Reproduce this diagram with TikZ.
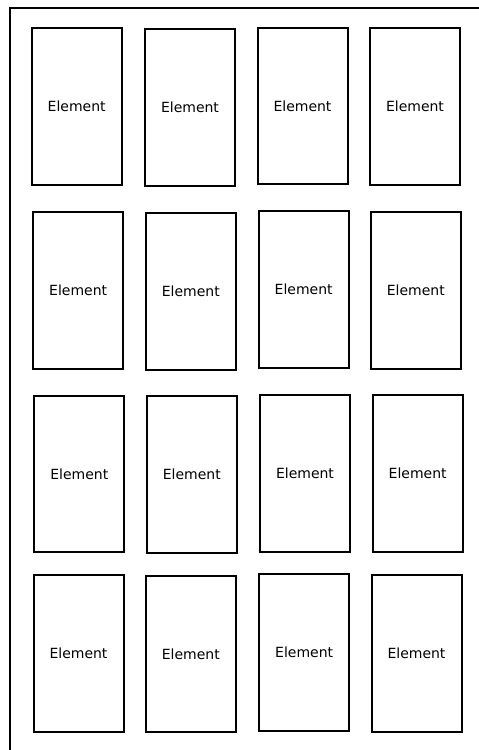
\documentclass[tikz,border=0pt]{standalone}
\usepackage{fontspec}
\setsansfont{DejaVu Sans}
\tikzset{
    font=\sffamily,
    elem/.style={draw=black, line width=2pt, minimum width=90pt, minimum height=156.5pt,
        inner sep=0pt, fill=white, font=\sffamily\fontsize{14}{16}\selectfont}
}

\begin{document}
\begin{tikzpicture}[x=1pt, y=-1pt]
    % Page size
    \useasboundingbox (0,0) rectangle (479,750);
    \clip (0,0) rectangle (479,750);

    % Outer frame (runs off the page at right and bottom)
    \draw[line width=2pt] (9.5,760) -- (9.5,7.5) -- (490,7.5);

    % Row 1
    \node[elem] (e11) at (76.7,106.7) {Element};
    \node[elem] (e12) at (190.0,107.5) {Element};
    \node[elem] (e13) at (302.5,106.2) {Element};
    \node[elem] (e14) at (415.0,106.7) {Element};

    % Row 2
    \node[elem] (e21) at (78.2,290.5) {Element};
    \node[elem] (e22) at (190.8,291.5) {Element};
    \node[elem] (e23) at (303.7,289.5) {Element};
    \node[elem] (e24) at (415.8,290.3) {Element};

    % Row 3
    \node[elem] (e31) at (79.3,474.0) {Element};
    \node[elem] (e32) at (191.8,474.5) {Element};
    \node[elem] (e33) at (305.0,473.3) {Element};
    \node[elem] (e34) at (417.7,473.7) {Element};

    % Row 4
    \node[elem] (e41) at (78.5,653.5) {Element};
    \node[elem] (e42) at (190.8,654.0) {Element};
    \node[elem] (e43) at (304.2,652.7) {Element};
    \node[elem] (e44) at (416.5,653.3) {Element};
\end{tikzpicture}
\end{document}
